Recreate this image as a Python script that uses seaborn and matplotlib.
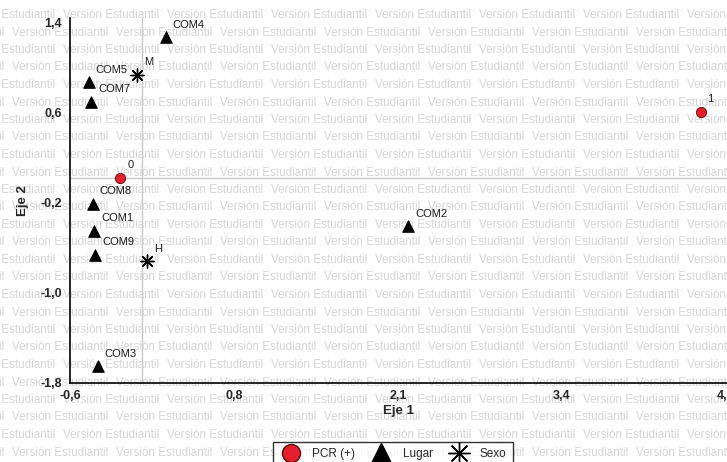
import numpy as np
import pandas as pd
import matplotlib.pyplot as plt
import seaborn as sns
from matplotlib.lines import Line2D

sns.set_style("white")
plt.rcParams['font.family'] = ['Liberation Sans', 'DejaVu Sans']

# data
pcr_labels = ['0', '1']
pcr_x = [-0.15, 4.45]
pcr_y = [0.02, 0.61]

lugar_labels = ['COM1', 'COM2', 'COM3', 'COM4', 'COM5', 'COM7', 'COM8', 'COM9']
lugar_x = [-0.36, 2.13, -0.33, 0.21, -0.40, -0.38, -0.37, -0.35]
lugar_y = [-0.45, -0.41, -1.65, 1.27, 0.87, 0.695, -0.21, -0.66]

sexo_labels = ['M', 'H']
sexo_x = [-0.02, 0.06]
sexo_y = [0.935, -0.72]

xticks = [-0.55, 0.75, 2.05, 3.35, 4.65]
xtick_labels = ['-0,6', '0,8', '2,1', '3,4', '4,7']
yticks = [-1.8, -1.0, -0.2, 0.6, 1.4]
ytick_labels = ['-1,8', '-1,0', '-0,2', '0,6', '1,4']

pcr = pd.DataFrame({'x': pcr_x, 'y': pcr_y, 'label': pcr_labels})
lugar = pd.DataFrame({'x': lugar_x, 'y': lugar_y, 'label': lugar_labels})
sexo = pd.DataFrame({'x': sexo_x, 'y': sexo_y, 'label': sexo_labels})

fig = plt.figure(figsize=(7.27, 4.62), dpi=100)

# "Versión Estudiantil" watermark tiled over the background
W, H = 727, 462
for i, ypx in enumerate(np.arange(15, H + 10, 17.5)):
    start = 63 if i % 2 == 0 else 12
    for k in range(-1, 8):
        fig.text((start + k * 104) / W, 1 - ypx / H, 'Versión Estudiantil',
                 fontsize=8.4, color='#d6d6d6', ha='left', va='center', zorder=-5)

ax = fig.add_axes([70 / W, 1 - 383 / H, 1 - 70 / W, (383 - 18) / H])
ax.patch.set_alpha(0)

ax.axvline(0.02, color='#c9c9c9', lw=1, zorder=0)
ax.axhline(0.02, color='#c9c9c9', lw=1, zorder=0)

sns.scatterplot(data=pcr, x='x', y='y', ax=ax, marker='o', s=55,
                color='#e3202b', edgecolor='#5a0a0a', linewidth=0.6, label='PCR (+)', zorder=3)
sns.scatterplot(data=lugar, x='x', y='y', ax=ax, marker='^', s=70,
                color='black', edgecolor='black', label='Lugar', zorder=3)
sns.scatterplot(data=sexo, x='x', y='y', ax=ax, marker=(8, 2, 0), s=90,
                color='black', linewidth=1, label='Sexo', zorder=3)

for df in [pcr, lugar, sexo]:
    for _, r in df.iterrows():
        ax.annotate(r['label'], (r['x'], r['y']), xytext=(5, 9),
                    textcoords='offset points', fontsize=8, color='#1a1a1a',
                    ha='left', va='center')

ax.set_xlim(-0.55, 4.66)
ax.set_ylim(-1.8, 1.44)
ax.set_xticks(xticks)
ax.set_xticklabels(xtick_labels)
ax.set_yticks(yticks)
ax.set_yticklabels(ytick_labels)
for lab in ax.get_xticklabels() + ax.get_yticklabels():
    lab.set_fontweight('bold')
    lab.set_fontsize(9)
ax.tick_params(axis='y', direction='out', length=4, width=1, color='black', pad=2)
ax.tick_params(axis='x', direction='inout', length=6, width=1, color='black', pad=2)
sns.despine(ax=ax)
ax.spines['left'].set_color('black')
ax.spines['bottom'].set_color('black')
ax.spines['left'].set_linewidth(1.2)
ax.spines['bottom'].set_linewidth(1.2)

ax.set_xlabel('Eje 1', fontsize=9.5, fontweight='bold', labelpad=2)
ax.set_ylabel('Eje 2', fontsize=9.5, fontweight='bold', labelpad=8)

ax.get_legend().remove()
handles = [
    Line2D([], [], marker='o', ls='', color='#e3202b', markeredgecolor='#5a0a0a', markersize=13),
    Line2D([], [], marker='^', ls='', color='black', markersize=14),
    Line2D([], [], marker=(8, 2, 0), ls='', color='black', markersize=16, markeredgewidth=1),
]
leg = fig.legend(handles, ['PCR (+)', 'Lugar', 'Sexo'], ncol=3, loc='upper center',
                 bbox_to_anchor=(393 / W, 1 - 436 / H), frameon=True, fancybox=False,
                 fontsize=8.5, handletextpad=0.8, columnspacing=1.2, borderpad=0.5)
leg.get_frame().set_edgecolor('black')
leg.get_frame().set_linewidth(1)
leg.get_frame().set_facecolor('white')

plt.savefig('out.png', dpi=100)
